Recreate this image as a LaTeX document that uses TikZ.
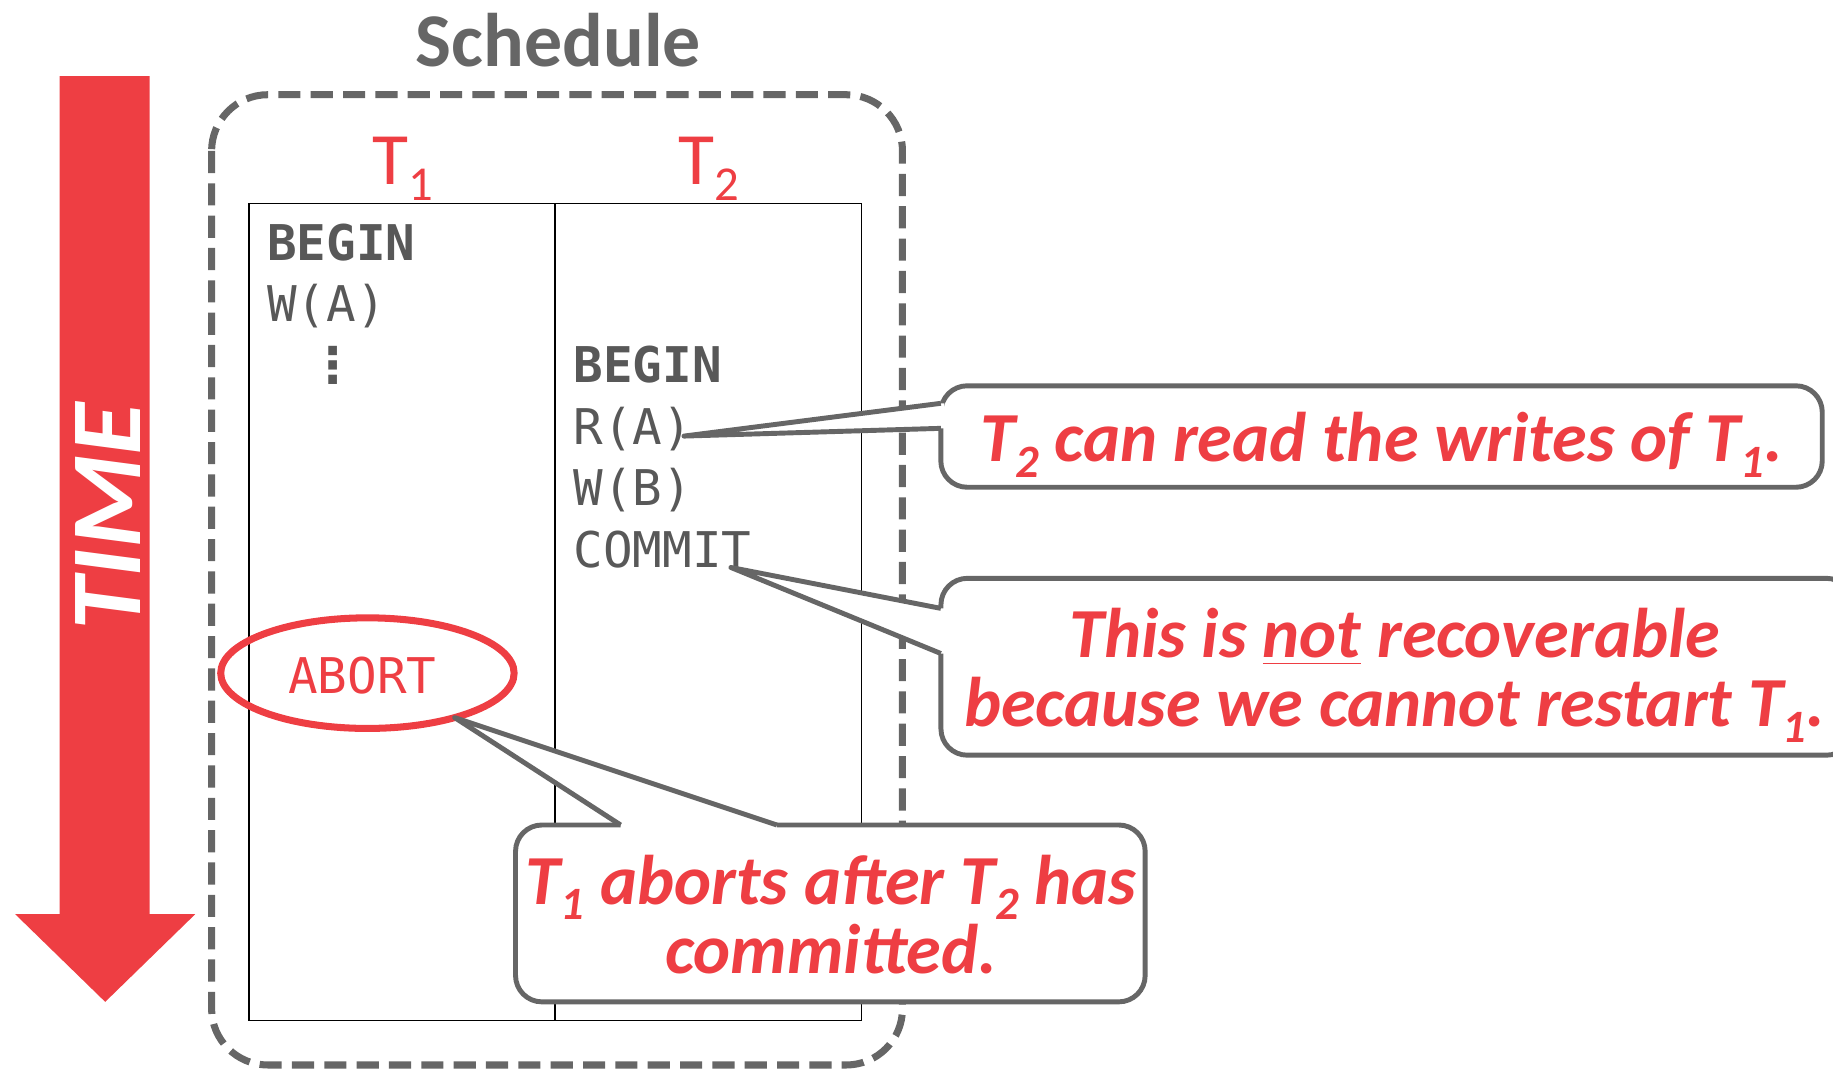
\documentclass[tikz,border=0pt]{standalone}
\usepackage{fontspec}
\setmainfont{Carlito}
\newfontfamily\codefont{DejaVu Sans Mono}
\newfontfamily\symbfont{DejaVu Sans}
\usetikzlibrary{positioning, shapes.geometric}

\definecolor{dbred}{RGB}{238,62,67}
\definecolor{dbgray}{RGB}{102,102,102}
\definecolor{codegray}{RGB}{88,88,88}

\newcommand{\tsub}[1]{\raisebox{-0.22em}{\scalebox{0.66}{#1}}}

\tikzset{
	stmt/.style={font=\codefont\fontsize{14pt}{16pt}\selectfont, text=codegray, anchor=base west, inner sep=0pt},
	stmt bold/.style={stmt, font=\codefont\bfseries\fontsize{14pt}{16pt}\selectfont},
	note box/.style={draw=dbgray, fill=white, line width=1.4pt, rounded corners=7.5pt, inner sep=0pt, outer sep=0pt},
	note text/.style={font=\bfseries\itshape\fontsize{20pt}{19.6pt}\selectfont, text=dbred, align=center, anchor=base, inner sep=0pt},
	pointer/.style={draw=dbgray, line width=1.4pt, line join=round},
}

\begin{document}
\begin{tikzpicture}[x=0.01169cm, y=-0.01169cm]

\def \u{0.01169cm}
\def \rowa{222.4} % baseline of first row
\def \rowh{52.6}
\newcommand{\rowy}[1]{\rowa + #1 * \rowh}

\useasboundingbox (0,0) rectangle (1568,914);

% time arrow
\fill[dbred] (51,65) -- (128,65) -- (128,782) -- (167,782) -- (90,857) -- (13,782) -- (51,782) -- cycle;
\node[rotate=90, text=white, font=\bfseries\itshape\fontsize{28.5pt}{28pt}\selectfont] (time) at (92,442) {\scalebox{1.07}[1]{TIME}};

% schedule
\node[anchor=base, inner sep=0pt, text=dbgray, font=\bfseries\fontsize{21.6pt}{22pt}\selectfont] (schedule) at (477.7,56.5) {Schedule};
\draw[dbgray, line width=2pt, dash pattern=on 6.3pt off 2.9pt, rounded corners=16pt] (181,81) rectangle (772,911); % outer box
\draw[line width=0.5pt] (213,174) rectangle (737,873); % table
\draw[line width=0.5pt] (475,174) -- (475,873); % column rule

\node[anchor=base west, inner sep=0pt, text=dbred, font=\fontsize{21pt}{21pt}\selectfont] (t1 label) at (318,157.4) {T\tsub{1}};
\node[anchor=base west, inner sep=0pt, text=dbred, font=\fontsize{21pt}{21pt}\selectfont] (t2 label) at (579.5,157.4) {T\tsub{2}};

% operations
\node[stmt bold] (t1 begin) at (228, \rowy{0}) {BEGIN};
\node[stmt]      (t1 write) at (228, \rowy{1}) {W(A)};
\node[inner sep=0pt, text=codegray, font=\symbfont\bfseries\fontsize{14pt}{14pt}\selectfont] (t1 dots) at (285,312.5) {⋮};
\node[stmt bold] (t2 begin)  at (490, \rowy{2}) {BEGIN};
\node[stmt]      (t2 read)   at (490, \rowy{3}) {R(A)};
\node[stmt]      (t2 write)  at (490, \rowy{4}) {W(B)};
\node[stmt]      (t2 commit) at (490, \rowy{5}) {COMMIT};

\node[stmt, text=dbred] (t1 abort) at (246,593) {ABORT};
\node[draw=dbred, line width=2pt, ellipse, minimum width={251*\u}, minimum height={94.6*\u}, inner sep=0pt, outer sep=0pt] (abort ring) at (314.3,575.8) {};

% read note
\node[note box, minimum width={754*\u}, minimum height={86.8*\u}] (read note) at (1181.8,373.4) {};
\node[note text] (read text) at (1182,395) {T\tsub{2} can read the writes of T\tsub{1}.};
\coordinate (read top) at (804.8,345);
\coordinate (read bottom) at (804.8,366.4);
\fill[white] (read top) -- ([xshift=-2.5pt]t2 read.mid east) -- (read bottom) -- ++(3,0) |- (read top);
\draw[pointer] (read top) -- ([xshift=-2.5pt]t2 read.mid east) -- (read bottom);

% recover note
\node[note box, minimum width={780*\u}, minimum height={151.3*\u}] (recover note) at (1194.9,570.35) {};
\node[note text] (recover text) at (1193,621.6) {This is \underline{not} recoverable\\because we cannot restart T\tsub{1}.};
\coordinate (recover top) at (804.8,520.4);
\coordinate (recover bottom) at (804.8,559);
\fill[white] (recover top) -- ([xshift=-6pt]t2 commit.base east) -- (recover bottom) -- ++(3,0) |- (recover top);
\draw[pointer] (recover top) -- ([xshift=-6pt]t2 commit.base east) -- (recover bottom);

% abort note
\node[note box, minimum width={538.6*\u}, minimum height={151.3*\u}] (abort note) at (710.3,781.35) {};
\node[note text] (abort text) at (711,832.6) {T\tsub{1} aborts after T\tsub{2} has\\committed.};
\coordinate (abort left) at (530.9,705.7);
\coordinate (abort right) at (664.6,705.7);
\fill[white] (abort left) -- (abort ring.-27) -- (abort right) -- ++(0,3) -| (abort left);
\draw[pointer] (abort left) -- (abort ring.-27) -- (abort right);

\end{tikzpicture}
\end{document}
